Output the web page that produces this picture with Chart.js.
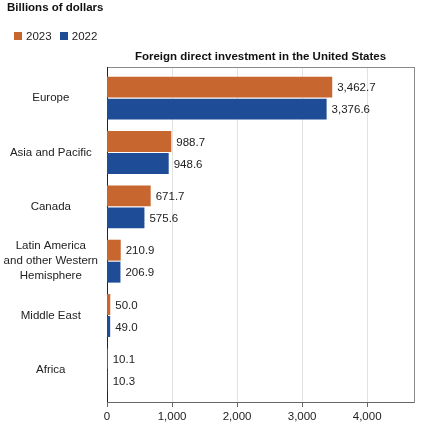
<!DOCTYPE html>
<html>
<head>
<meta charset="utf-8">
<script src="https://cdn.jsdelivr.net/npm/chart.js@4"></script>
<style>
  body { margin: 0; background: #fff; font-family: "Liberation Sans", Arial, sans-serif; }
  #wrap { position: relative; width: 432px; height: 447px; }
  #unit { position: absolute; left: 7px; top: 1px; font-size: 11.5px; font-weight: bold; color: #111; }
  #legend { position: absolute; left: 14px; top: 30px; font-size: 11.5px; color: #222; }
  #legend span.box { display: inline-block; width: 8px; height: 8px; margin-right: 4px; vertical-align: 0px; }
  #legend span.item { margin-right: 5px; }
  canvas { position: absolute; left: 0; top: 0; }
</style>
</head>
<body>
<div id="wrap">
  <canvas id="fdiChart" width="432" height="447"></canvas>
  <div id="unit">Billions of dollars</div>
  <div id="legend">
    <span class="item"><span class="box" style="background:#C8662F"></span>2023</span>
    <span class="item"><span class="box" style="background:#1F4C97"></span>2022</span>
  </div>
</div>
<script>
const regions = [
  'Europe',
  'Asia and Pacific',
  'Canada',
  ['Latin America', 'and other Western', 'Hemisphere'],
  'Middle East',
  'Africa'
];
const values2023 = [3462.7, 988.7, 671.7, 210.9, 50.0, 10.1];
const values2022 = [3376.6, 948.6, 575.6, 206.9, 49.0, 10.3];
const xTicks = [0, 1000, 2000, 3000, 4000];

const ORANGE = '#C8662F';
const BLUE = '#1F4C97';
const FONT = 'Liberation Sans, Arial, sans-serif';

// frame, grid lines, title and value labels
const chartDecor = {
    id: 'chartDecor',
    beforeDatasetsDraw(chart) {
        const { ctx, chartArea, scales } = chart;
        const top = chartArea.top - 4;
        const bottom = chartArea.bottom + 5;
        ctx.save();
        ctx.strokeStyle = '#e2e2e2';
        ctx.lineWidth = 1;
        xTicks.slice(1).forEach((v) => {
            const x = Math.round(scales.x.getPixelForValue(v)) + 0.5;
            ctx.beginPath();
            ctx.moveTo(x, top);
            ctx.lineTo(x, bottom);
            ctx.stroke();
        });
        ctx.strokeStyle = '#8a8a8a';
        ctx.strokeRect(chartArea.left + 0.5, top + 0.5, chartArea.right - chartArea.left, bottom - top);
        // x axis line and tick marks
        ctx.strokeStyle = '#666';
        ctx.beginPath();
        ctx.moveTo(chartArea.left, bottom + 0.5);
        ctx.lineTo(chartArea.right, bottom + 0.5);
        ctx.stroke();
        xTicks.forEach((v) => {
            const x = Math.round(scales.x.getPixelForValue(v)) + 0.5;
            ctx.beginPath();
            ctx.moveTo(x, bottom);
            ctx.lineTo(x, bottom + 5);
            ctx.stroke();
        });
        // y axis line
        ctx.strokeStyle = '#222';
        ctx.beginPath();
        ctx.moveTo(chartArea.left + 0.5, top);
        ctx.lineTo(chartArea.left + 0.5, bottom);
        ctx.stroke();
        // title
        ctx.fillStyle = '#111';
        ctx.font = 'bold 11.5px ' + FONT;
        ctx.textAlign = 'center';
        ctx.textBaseline = 'middle';
        ctx.fillText('Foreign direct investment in the United States', (chartArea.left + chartArea.right) / 2, 57);
        ctx.restore();
    },
    afterDatasetsDraw(chart) {
        const { ctx } = chart;
        ctx.save();
        ctx.fillStyle = '#222';
        ctx.font = '11.5px ' + FONT;
        ctx.textAlign = 'left';
        ctx.textBaseline = 'middle';
        chart.data.datasets.forEach((ds, i) => {
            chart.getDatasetMeta(i).data.forEach((bar, j) => {
                const label = ds.data[j].toLocaleString('en-US', { minimumFractionDigits: 1, maximumFractionDigits: 1 });
                ctx.fillText(label, bar.x + 5, bar.y + 1);
            });
        });
        ctx.restore();
    }
};

const ctx = document.getElementById('fdiChart').getContext('2d');
new Chart(ctx, {
    type: 'bar',
    data: {
        labels: regions,
        datasets: [
            { label: '2023', data: values2023, backgroundColor: ORANGE },
            { label: '2022', data: values2022, backgroundColor: BLUE }
        ]
    },
    options: {
        indexAxis: 'y',
        responsive: false,
        animation: false,
        events: [],
        categoryPercentage: 0.81,
        barPercentage: 0.95,
        layout: {
            padding: { top: 71, right: 18, bottom: 20, left: 0 }
        },
        plugins: {
            legend: { display: false },
            title: { display: false },
            tooltip: { enabled: false }
        },
        scales: {
            x: {
                min: 0,
                max: 4720,
                grid: { display: false },
                border: { display: false },
                afterBuildTicks(scale) {
                    scale.ticks = xTicks.map((v) => ({ value: v }));
                },
                ticks: {
                    padding: 5,
                    color: '#222',
                    font: { family: FONT, size: 11.5 },
                    callback: (v) => v.toLocaleString('en-US')
                },
                afterFit(scale) {
                    scale.height = 30;
                    scale.paddingRight = 0;
                }
            },
            y: {
                grid: { display: false, drawTicks: false },
                border: { display: false },
                ticks: {
                    crossAlign: 'center',
                    padding: 9,
                    color: '#222',
                    font: { family: FONT, size: 11.5, lineHeight: 1.3 }
                },
                afterFit(scale) { scale.width = 107; }
            }
        }
    },
    plugins: [chartDecor]
});
</script>
</body>
</html>
